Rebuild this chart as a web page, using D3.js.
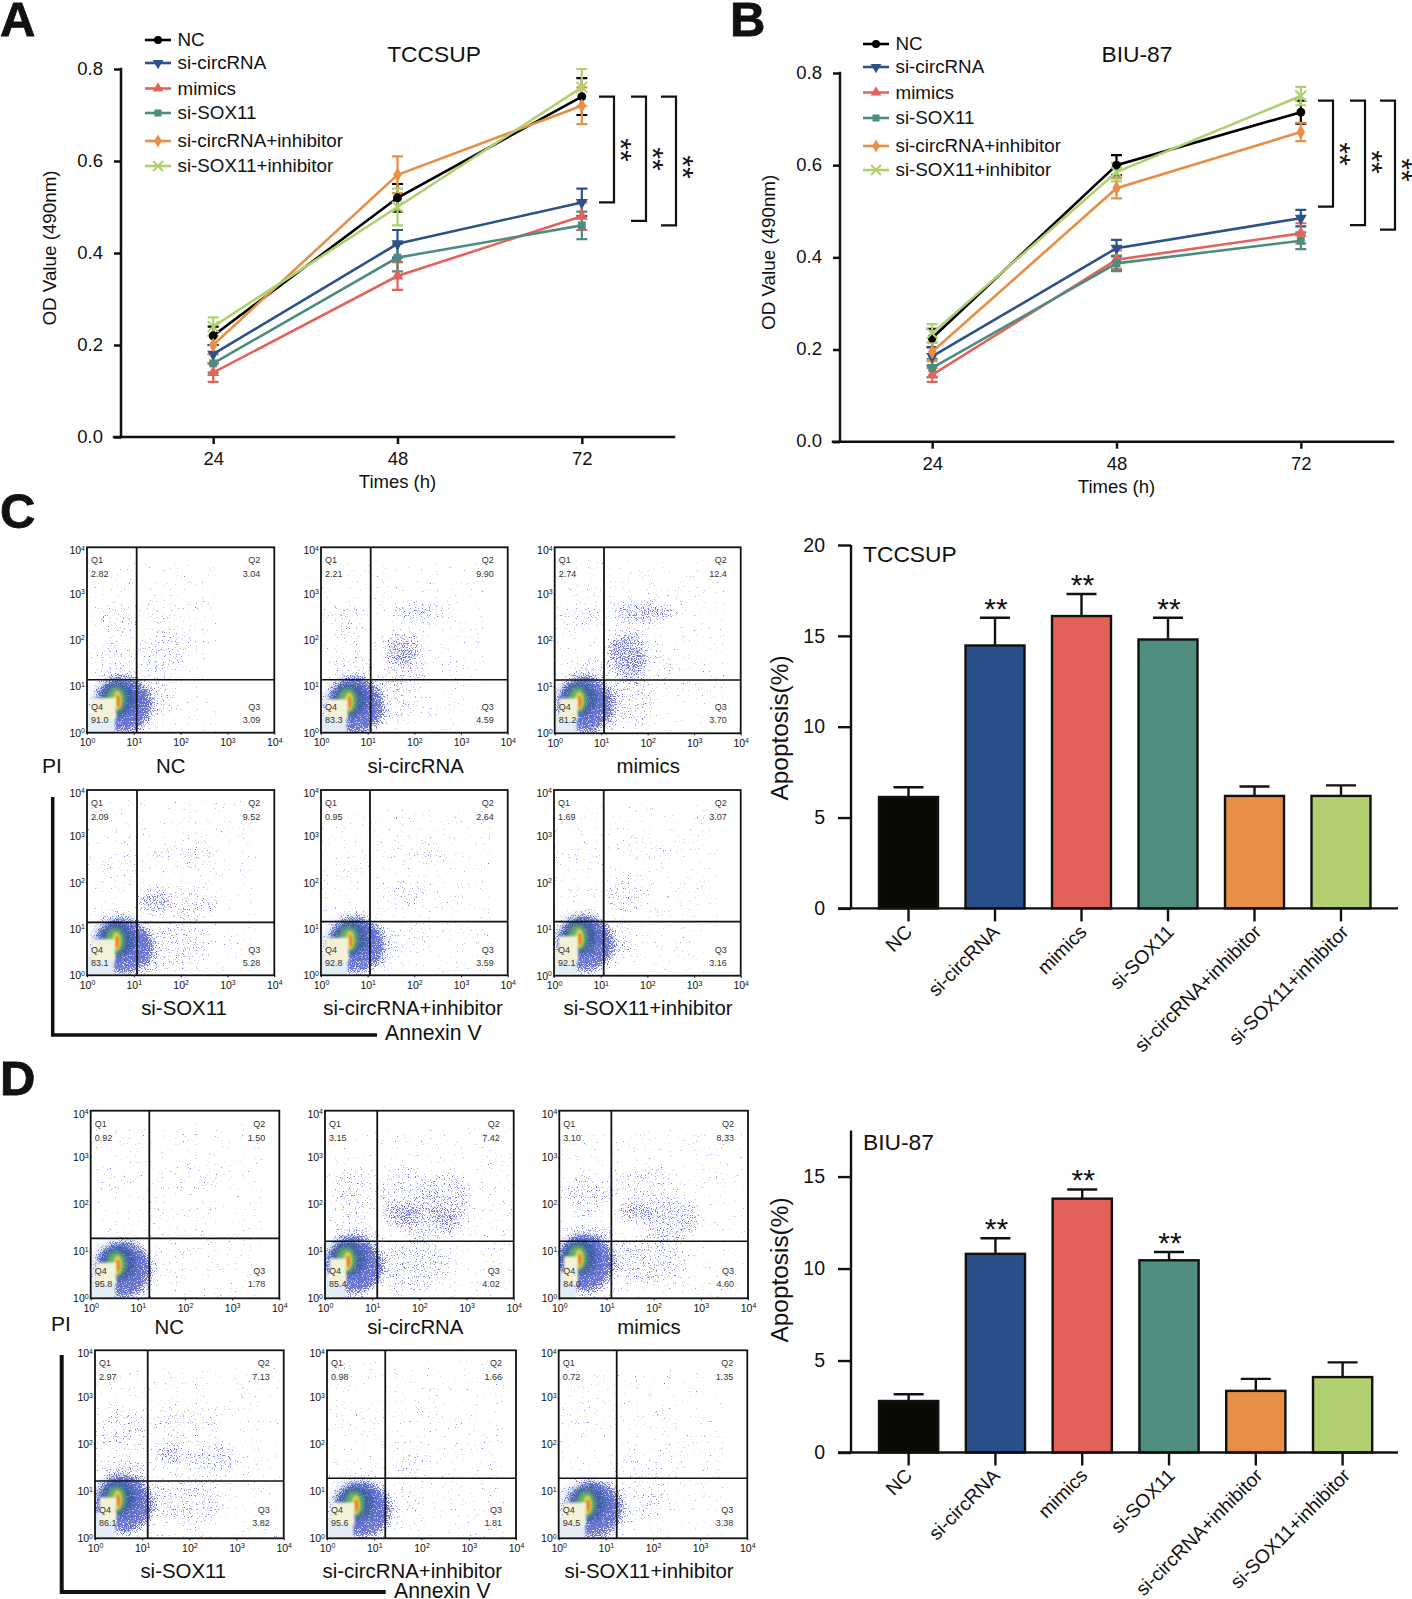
<!DOCTYPE html>
<html><head><meta charset="utf-8">
<script src="https://cdn.jsdelivr.net/npm/d3@7/dist/d3.min.js"></script>
<style>html,body{margin:0;padding:0;background:#fff}svg{display:block}text{font-family:"Liberation Sans",Arial,sans-serif;fill:#111}</style>
</head><body><svg id="fig" width="1412" height="1599"></svg>
<script>
// ---------- data ----------
const groups = ["NC","si-circRNA","mimics","si-SOX11","si-circRNA+inhibitor","si-SOX11+inhibitor"];
const hours = [24,48,72];
const odTicks = [0,0.2,0.4,0.6,0.8];
const odTccsup = [[.22,.52,.74],[.18,.42,.51],[.14,.35,.48],[.16,.39,.46],[.20,.57,.72],[.24,.50,.76]];
const odTccsupErr = [[.02,.03,.04],[.02,.03,.03],[.02,.03,.03],[.02,.03,.03],[.02,.04,.04],[.02,.04,.04]];
const odBiu = [[.225,.60,.715],[.185,.42,.485],[.145,.395,.452],[.16,.387,.436],[.195,.55,.672],[.235,.585,.75]];
const odBiuErr = [[.02,.022,.025],[.02,.018,.018],[.015,.02,.022],[.02,.017,.018],[.02,.022,.02],[.02,.02,.02]];
const bracketsTccsup = [[.74,.51],[.74,.47],[.74,.46]];
const bracketsBiu = [[.74,.51],[.74,.47],[.74,.46]];
const apoTccsup = [6.13,14.47,16.09,14.8,6.19,6.19];
const apoTccsupTop = [6.67,16.0,17.3,16.0,6.71,6.77];
const apoBiu = [2.8,10.8,13.8,10.45,3.35,4.1];
const apoBiuTop = [3.17,11.65,14.3,10.9,4.0,4.9];
const apoTccsupTicks = [0,5,10,15,20];
const apoBiuTicks = [0,5,10,15];
const flowLabels = ["NC","si-circRNA","mimics","si-SOX11","si-circRNA+inhibitor","si-SOX11+inhibitor"];
const flowTccsupQ = [["2.82","3.04","3.09","91.0"],["2.21","9.90","4.59","83.3"],["2.74","12.4","3.70","81.2"],["2.09","9.52","5.28","83.1"],["0.95","2.64","3.59","92.8"],["1.69","3.07","3.16","92.1"]];
const flowBiuQ = [["0.92","1.50","1.78","95.8"],["3.15","7.42","4.02","85.4"],["3.10","8.33","4.60","84.0"],["2.97","7.13","3.82","86.1"],["0.98","1.66","1.81","95.6"],["0.72","1.35","3.38","94.5"]];
// quadrant gates [Annexin V, PI]
const gatesTccsup = [[11.5,13.9],[11.6,13.9],[11.5,14],[11.7,13.9],[11.2,14.4],[11.6,14.6]];
const gatesBiu = [[17.5,19],[12.8,16.4],[12.7,16.4],[13.1,16.6],[17.1,18.9],[17,18.9]];
// hot spot of the main population, in decades [x,y]
const coresTccsup = [[.67,.70],[.62,.67],[.545,.70],[.65,.73],[.64,.76],[.56,.80]];
const coresBiu = [[.59,.71],[.50,.80],[.44,.84],[.50,.82],[.63,.71],[.63,.71]];
// Event clouds: the individual events cannot be read, so each plot keeps its
// visible regions of events as estimated [x,y,rx,ry,density] in decades.
const cloudsTccsup = [
 [[.65,2.45,.45,.35,.12],[.6,1.5,.45,.45,.12],[1.5,2.55,.55,.2,.1],[1.65,1.75,.5,.5,.14],[1.45,.7,.4,.45,.16]],
 [[.6,2.4,.4,.4,.1],[.7,1.4,.4,.4,.12],[2.1,2.6,.6,.2,.25],[1.75,1.8,.4,.35,.35],[1.8,1.35,.5,.35,.14],[1.5,.7,.5,.55,.14]],
 [[.6,2.5,.5,.25,.16],[.7,1.3,.4,.3,.15],[1.9,2.6,.7,.25,.3],[1.55,1.7,.45,.5,.4],[2.2,1.4,.6,.35,.12],[1.6,.7,.55,.55,.18]],
 [[.7,2.3,.4,.25,.1],[.6,1.3,.4,.3,.08],[1.7,2.6,.45,.2,.12],[2.4,2.6,.3,.3,.14],[1.4,1.6,.35,.25,.35],[2.2,1.5,.6,.4,.15],[1.8,.6,.8,.55,.15],[1.3,.5,.2,.5,.2]],
 [[.7,2.4,.3,.3,.05],[2.1,2.6,.7,.15,.12],[1.8,1.75,.4,.3,.12],[2.3,1.6,.5,.3,.06],[1.4,.6,.35,.5,.14],[2,.8,.4,.3,.08]],
 [[.6,2.5,.4,.2,.07],[1.9,2.7,.7,.15,.1],[1.5,1.75,.4,.45,.15],[2.4,1.35,.3,.2,.05],[1.4,.7,.4,.45,.14]]
];
const cloudsBiu = [
 [[.6,2.4,.4,.25,.05],[.8,1.2,.3,.3,.05],[2.1,2.6,.7,.25,.07],[1.7,1.7,.3,.2,.07],[1.7,.7,.4,.5,.06]],
 [[.6,2.2,.45,.55,.15],[.7,1.4,.5,.25,.2],[1.7,2.3,.6,.5,.15],[1.6,1.8,.4,.25,.3],[2.6,2.1,.5,.6,.22],[2.2,1.6,.7,.4,.2],[1.9,.7,.8,.55,.2]],
 [[.6,2.2,.5,.5,.17],[.7,1.3,.5,.3,.2],[1.8,2.4,.7,.4,.13],[1.6,1.85,.35,.2,.35],[2.4,1.7,.6,.45,.25],[1.9,.8,.8,.55,.2]],
 [[.6,2.3,.5,.45,.17],[.7,1.4,.5,.3,.2],[1.9,2.5,.8,.3,.13],[1.6,1.8,.35,.25,.3],[2.5,1.7,.5,.35,.22],[1.9,.8,.8,.55,.17]],
 [[.6,2.5,.4,.2,.04],[.6,1.1,.4,.2,.05],[1.9,2.7,.6,.2,.06],[1.7,1.6,.3,.3,.1],[2.5,1.8,.4,.3,.04],[1.6,.7,.4,.5,.08]],
 [[.5,2.5,.4,.2,.05],[1.8,2.6,.6,.15,.07],[2,1.6,.7,.35,.07],[1.7,.8,.6,.5,.13]]
];
const flowTicks = [1,10,100,1000,10000];

// ---------- styles and layout ----------
const lineColors = ["#000000","#2d5288","#e3635a","#4d8d80","#e88e45","#aed06f"];
const barColors = ["#0a0a05","#2a4f8a","#e2625a","#4f8e80","#e68f45","#b2d070"];
const symbols = [d3.symbolCircle,"down",d3.symbolTriangle,d3.symbolSquare,d3.symbolDiamond,d3.symbolTimes];
const svg = d3.select("#fig");
const defs = svg.append("defs");
const blur = (id,s)=>defs.append("filter").attr("id",id).attr("x","-40%").attr("y","-40%").attr("width","180%").attr("height","180%")
  .append("feGaussianBlur").attr("stdDeviation",s);
blur("b1",1); blur("b2",2); blur("b4",4);
// stipple: turns a soft density field into fine speckle, denser where the field is stronger
const st = defs.append("filter").attr("id","stipple").attr("x","-30%").attr("y","-30%").attr("width","160%").attr("height","160%")
  .attr("color-interpolation-filters","sRGB");
st.append("feGaussianBlur").attr("in","SourceAlpha").attr("stdDeviation",5).attr("result","b");
st.append("feTurbulence").attr("type","fractalNoise").attr("baseFrequency",.85).attr("numOctaves",2).attr("seed",7).attr("result","n");
st.append("feColorMatrix").attr("in","n").attr("type","matrix").attr("values","0 0 0 0 0  0 0 0 0 0  0 0 0 0 0  1 0 0 0 0").attr("result","na");
st.append("feComposite").attr("in","b").attr("in2","na").attr("operator","arithmetic").attr("k1",0).attr("k2",.62).attr("k3",1).attr("k4",0).attr("result","s");
const ct = st.append("feComponentTransfer").attr("in","s").attr("result","d");
ct.append("feFuncA").attr("type","linear").attr("slope",7).attr("intercept",-4.98);
st.append("feFlood").attr("flood-color","#6d76d4").attr("result","f");
st.append("feComposite").attr("in","f").attr("in2","d").attr("operator","in").attr("result","dots");
st.append("feGaussianBlur").attr("in","dots").attr("stdDeviation",.35);

function letter(t,x,y){svg.append("text").attr("x",x).attr("y",y).attr("font-size",49).attr("font-weight","bold").attr("stroke","#111").attr("stroke-width",.8).text(t);}

function marker(par,i,size,tx,ty){
  const p=par.append("path").attr("transform",`translate(${tx},${ty}) rotate(${i==1?180:0})`);
  if(symbols[i]==="down") p.attr("d",d3.symbol(d3.symbolTriangle,size)()).attr("fill",lineColors[i]);
  else if(i==5) p.attr("d",d3.symbol(symbols[i],size*1.3)()).attr("fill","none").attr("stroke",lineColors[i]).attr("stroke-width",2);
  else p.attr("d",d3.symbol(symbols[i],size)()).attr("fill",lineColors[i]);
}

function linePanel(o){
  const g = svg.append("g");
  const x = d3.scaleLinear().domain([12,84]).range([o.x0,o.x1]);
  const y = d3.scaleLinear().domain([0,.8]).range([o.y0,o.y1]);
  const ax = d3.axisBottom(x).tickValues(hours).tickSize(7).tickPadding(8);
  const ay = d3.axisLeft(y).tickValues(odTicks).tickSize(7).tickPadding(11).tickFormat(d3.format(".1f"));
  const gx = g.append("g").attr("transform",`translate(0,${o.y0})`).call(ax);
  const gy = g.append("g").attr("transform",`translate(${o.x0},0)`).call(ay);
  [gx,gy].forEach(a=>{a.selectAll("path,line").attr("stroke","#111").attr("stroke-width",2.5);a.selectAll("text").attr("font-size",18.5).attr("font-family",null);a.select(".domain").attr("stroke-linecap","square");});
  gy.selectAll("text").attr("dy","0.27em");
  gx.select(".domain").attr("d",`M${o.x0-7},0H${o.x1}`);
  gy.select(".domain").attr("d",`M0,${o.y0}V${o.y1}`);
  o.vals.forEach((v,i)=>{
    const s = g.append("g");
    v.forEach((m,j)=>{
      const e=o.errs[i][j], cx=x(hours[j]);
      s.append("path").attr("fill","none").attr("stroke",lineColors[i]).attr("stroke-width",2.2)
       .attr("d",`M${cx-5.5},${y(m+e)}H${cx+5.5}M${cx},${y(m+e)}V${y(m-e)}M${cx-5.5},${y(m-e)}H${cx+5.5}`);
    });
  });
  o.vals.forEach((v,i)=>{
    const s = g.append("g");
    s.append("path").datum(v).attr("fill","none").attr("stroke",lineColors[i]).attr("stroke-width",2.6)
      .attr("d",d3.line().x((d,j)=>x(hours[j])).y(d=>y(d)));
    v.forEach((m,j)=>marker(s,i,62,x(hours[j]),y(m)));
  });
  // legend
  groups.forEach((t,i)=>{
    const ly=o.legY[i];
    g.append("line").attr("x1",o.legX).attr("x2",o.legX+26).attr("y1",ly).attr("y2",ly).attr("stroke",lineColors[i]).attr("stroke-width",2.6);
    marker(g,i,50,o.legX+13,ly);
    g.append("text").attr("x",o.legX+32.5).attr("y",ly+6).attr("font-size",18.8).text(t);
  });
  g.append("text").attr("x",o.titleX).attr("y",o.titleY).attr("text-anchor","middle").attr("font-size",22.8).text(o.title);
  g.append("text").attr("transform",`translate(${o.x0-65},${(o.y0+o.y1)/2-5}) rotate(-90)`).attr("text-anchor","middle").attr("font-size",18.8).text("OD Value (490nm)");
  g.append("text").attr("x",x(48)).attr("y",o.y0+51).attr("text-anchor","middle").attr("font-size",18.5).text("Times (h)");
  // brackets
  o.brackets.forEach((b,i)=>{
    const bx=o.brX[i];
    g.append("path").attr("fill","none").attr("stroke","#111").attr("stroke-width",2.2)
      .attr("d",`M${bx-15},${y(b[0])}H${bx}V${y(b[1])}H${bx-15}`);
    g.append("text").attr("transform",`translate(${bx-3.5},${o.starY[i]}) rotate(90)`).attr("text-anchor","middle").attr("font-size",30).text("**");
  });
}

function barPanel(o){
  const g = svg.append("g");
  const x = d3.scaleBand().domain(groups).range([o.xb0,o.xb1]).paddingInner(.318).paddingOuter(.159);
  const y = d3.scaleLinear().domain([0,o.ymax]).range([o.y0,o.y1]);
  groups.forEach((c,i)=>{
    const cx=x(c)+x.bandwidth()/2;
    g.append("path").attr("fill","none").attr("stroke","#111").attr("stroke-width",2.4)
      .attr("d",`M${cx},${y(o.vals[i])}V${y(o.tops[i])}M${cx-15},${y(o.tops[i])}H${cx+15}`);
    g.append("rect").attr("x",x(c)).attr("y",y(o.vals[i])).attr("width",x.bandwidth()).attr("height",o.y0-y(o.vals[i]))
      .attr("fill",barColors[i]).attr("stroke","#111").attr("stroke-width",2.4);
  });
  const gx=g.append("g").attr("transform",`translate(0,${o.y0})`).call(d3.axisBottom(x).tickSize(13).tickFormat(""));
  const gy=g.append("g").attr("transform",`translate(${o.x0},0)`).call(d3.axisLeft(y).tickValues(o.ticks).tickSize(13).tickPadding(13));
  [gx,gy].forEach(a=>a.selectAll("path,line").attr("stroke","#111").attr("stroke-width",2.4));
  gy.selectAll("text").attr("font-size",19.5).attr("font-family",null);
  gx.select(".domain").attr("d",`M${o.x0-13},0H${o.xEnd}`);
  gy.select(".domain").attr("d",`M0,${o.y0}V${y(o.ymax)}`);
  groups.forEach((c,i)=>{
    g.append("text").attr("transform",`translate(${x(c)+x.bandwidth()/2+.8*i},${o.y0+o.labOff}) rotate(-45)`)
      .attr("text-anchor","end").attr("font-size",19.3).attr("dy","0.35em").text(c);
  });
  [1,2,3].forEach(i=>{
    g.append("text").attr("x",x(groups[i])+x.bandwidth()/2+1).attr("y",y(o.tops[i])+1).attr("text-anchor","middle").attr("font-size",30).text("**");
  });
  g.append("text").attr("x",o.x0+12).attr("y",o.titleY).attr("font-size",22.8).text(o.title);
  g.append("text").attr("transform",`translate(${o.x0-63},${o.labY}) rotate(-90)`).attr("text-anchor","middle").attr("font-size",24.4).text("Apoptosis(%)");
}

let clipN=0;
function flowPlot(b,q,gate,core,clouds){
  const [x0,x1,y0,y1]=b;
  const g=svg.append("g");
  const x=d3.scaleLog().domain([1,1e4]).range([x0,x1]);
  const y=d3.scaleLog().domain([1,1e4]).range([y1,y0]);
  const dx=(x1-x0)/4, dy=(y1-y0)/4;
  const X=d=>x(Math.pow(10,d)), Y=d=>y(Math.pow(10,d));
  const id="c"+(clipN++);
  defs.append("clipPath").attr("id",id).append("rect").attr("x",x0).attr("y",y0).attr("width",x1-x0).attr("height",y1-y0);
  const p=g.append("g").attr("clip-path",`url(#${id})`);
  const ell=(par,cx,cy,rx,ry,fill,op,f)=>{const e=par.append("ellipse").attr("cx",X(cx)).attr("cy",Y(cy)).attr("rx",rx*dx).attr("ry",ry*dy).attr("fill",fill).attr("fill-opacity",op);if(f)e.attr("filter",`url(#${f})`);return e;};
  // sparse events
  const sp=p.append("g").attr("filter","url(#stipple)");
  clouds.forEach(c=>ell(sp,c[0],c[1],c[2],c[3],"#000",c[4]));
  ell(sp,core[0]+.1,core[1]-.1,.62,.62,"#000",.7);
  // main population
  ell(p,core[0]+.0,core[1]+.02,.5,.46,"#2f4db0",.3,"b4");
  ell(p,core[0]-.02,core[1]+.04,.36,.36,"#1d4f86",.5,"b2");
  ell(p,core[0]-.05,core[1]+.02,.2,.27,"#6fbe5a",.85,"b2");
  ell(p,core[0]-.02,core[1]+.0,.09,.2,"#e7dc45",.9,"b1");
  ell(p,core[0]-.01,core[1]-.02,.04,.14,"#e8662a",.85,"b1");
  // pale saturated centre and corner
  p.append("rect").attr("x",x0).attr("y",Y(core[1]-.28)).attr("width",X(core[0]-.07)-x0).attr("height",y1-Y(core[1]-.28)).attr("fill","#e4ecf4").attr("filter","url(#b1)");
  p.append("rect").attr("x",X(.1)).attr("y",Y(core[1]+.05)).attr("width",X(core[0]-.05)-X(.1)).attr("height",Y(.3)-Y(core[1]+.05)).attr("fill","#f3f2d8").attr("filter","url(#b1)");
  // frame, gates
  g.append("line").attr("x1",x(gate[0])).attr("x2",x(gate[0])).attr("y1",y0).attr("y2",y1).attr("stroke","#111").attr("stroke-width",1.8);
  g.append("line").attr("x1",x0).attr("x2",x1).attr("y1",y(gate[1])).attr("y2",y(gate[1])).attr("stroke","#111").attr("stroke-width",1.6);
  g.append("rect").attr("x",x0).attr("y",y0).attr("width",x1-x0).attr("height",y1-y0).attr("fill","none").attr("stroke","#111").attr("stroke-width",1.8);
  // axes
  const ax=g.append("g").attr("transform",`translate(0,${y1})`).call(d3.axisBottom(x).tickValues(flowTicks).tickSize(2).tickPadding(4));
  const ay=g.append("g").attr("transform",`translate(${x0},0)`).call(d3.axisLeft(y).tickValues(flowTicks).tickSize(1).tickPadding(1));
  [ax,ay].forEach(a=>{a.select(".domain").remove();a.selectAll("line").attr("stroke","#111");
    a.selectAll("text").attr("font-size",10.5).attr("font-family",null).each(function(d){
      const t=d3.select(this);t.text("10");t.append("tspan").attr("font-size",7).attr("dy","-3.5").text(Math.round(Math.log10(d)));
    });});
  ay.selectAll("text").filter(d=>d===10000).attr("y",3);
  // quadrant notes
  const qt=(s,tx,ty,an)=>g.append("text").attr("x",tx).attr("y",ty).attr("text-anchor",an).attr("font-size",9).style("fill","#333").text(s);
  qt("Q1",x0+4,y0+16,"start"); qt(q[0],x0+4,y0+30,"start");
  qt("Q2",x1-14,y0+16,"end");  qt(q[1],x1-14,y0+30,"end");
  qt("Q3",x1-14,y0+163,"end"); qt(q[2],x1-14,y0+176,"end");
  qt("Q4",x0+4,y0+163,"start");qt(q[3],x0+4,y0+176,"start");
}
function cap(t,x,y,fs){svg.append("text").attr("x",x).attr("y",y).attr("text-anchor","middle").attr("font-size",fs||20.4).attr("dy","0.35em").text(t);}

letter("A",0,36); letter("B",730,36); letter("C",0,528); letter("D",0,1095);

linePanel({x0:121,x1:674,y0:437,y1:69,vals:odTccsup,errs:odTccsupErr,brackets:bracketsTccsup,
  legX:145,legY:[40,63,88.5,113,141,166],title:"TCCSUP",titleX:434,titleY:62,brX:[614,646,676],starY:[150,159,167]});
linePanel({x0:840,x1:1393,y0:441.7,y1:73,vals:odBiu,errs:odBiuErr,brackets:bracketsBiu,
  legX:863,legY:[44,67,92.5,118,146,170],title:"BIU-87",titleX:1137,titleY:62,brX:[1333,1365,1395],starY:[154,162,170]});

const boxesC=[[87,274.3,547.3,732.7],[321,507.7,547.3,732.7],[554.7,740.7,547.3,733.3],[87,274.3,790,975.3],[321,507.7,790,975.3],[554,740.7,790,975.7]];
const boxesD=[[90.7,279.3,1110.7,1298.3],[325,513.7,1110.7,1298.3],[559.3,748,1110.7,1298.3],[95,283.7,1350.3,1538.3],[327,516,1350.3,1538.3],[558.7,747.3,1350.3,1538.3]];
boxesC.forEach((b,i)=>flowPlot(b,flowTccsupQ[i],gatesTccsup[i],coresTccsup[i],cloudsTccsup[i]));
boxesD.forEach((b,i)=>flowPlot(b,flowBiuQ[i],gatesBiu[i],coresBiu[i],cloudsBiu[i]));
[[170.7,765.7],[415.7,765.7],[648.3,765.7],[184,1007.7],[413,1007.7],[648,1007.7]].forEach((p,i)=>cap(flowLabels[i],p[0],p[1]));
[[169.3,1326.7],[415.3,1326.7],[649,1326.7],[183.3,1570.7],[412.3,1570.7],[649,1570.7]].forEach((p,i)=>cap(flowLabels[i],p[0],p[1]));
cap("PI",52,765.7,21); cap("PI",61,1324,21);
svg.append("text").attr("x",385).attr("y",1033).attr("dy","0.35em").attr("font-size",21.2).text("Annexin V");
svg.append("text").attr("x",394).attr("y",1591).attr("dy","0.35em").attr("font-size",21.2).text("Annexin V");
svg.append("path").attr("fill","none").attr("stroke","#111").attr("stroke-width",3.5).attr("d","M52.7,797V1035H377");
svg.append("path").attr("fill","none").attr("stroke","#111").attr("stroke-width",4).attr("d","M61.7,1355V1592H385.7");

barPanel({x0:851,xb0:865.25,xb1:1384.25,xEnd:1398,y0:908.4,y1:545,ymax:20,vals:apoTccsup,tops:apoTccsupTop,ticks:apoTccsupTicks,title:"TCCSUP",titleY:562,labY:728,labOff:20});
barPanel({x0:851,xb0:865.25,xb1:1386,xEnd:1398,y0:1452.5,y1:1130.6,ymax:17.5,vals:apoBiu,tops:apoBiuTop,ticks:apoBiuTicks,title:"BIU-87",titleY:1150,labY:1270,labOff:19.5});
</script></body></html>
